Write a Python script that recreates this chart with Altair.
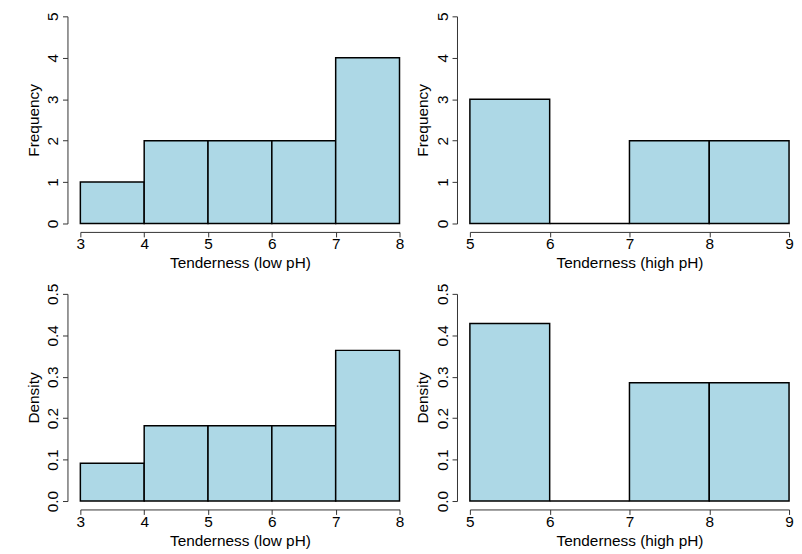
import altair as alt
import pandas as pd

# Histogram data
low_edges = [3, 4, 5, 6, 7, 8]
low_counts = [1, 2, 2, 2, 4]
high_edges = [5, 6, 7, 8, 9]
high_counts = [3, 0, 2, 2]

freq_ticks = [0, 1, 2, 3, 4, 5]
dens_ticks = [0.0, 0.1, 0.2, 0.3, 0.4, 0.5]

FONT = "Liberation Sans"
FS = 15.5
W, H = 322, 209
AX = "#333333"


def frame(edges, counts, density):
    n = sum(counts)
    rows = []
    for i, c in enumerate(counts):
        w = edges[i + 1] - edges[i]
        rows.append({"lo": edges[i], "hi": edges[i + 1], "base": 0,
                     "v": c / (n * w) if density else c})
    return pd.DataFrame(rows)


def panel(edges, counts, density, xtitle):
    df = frame(edges, counts, density)
    yticks = dens_ticks if density else freq_ticks
    ytitle = "Density" if density else "Frequency"
    xaxis = alt.Axis(values=edges, title=xtitle, offset=8.5, format="d",
                     labelBaseline="alphabetic", labelPadding=12,
                     titleBaseline="alphabetic", titleX=W / 2, titleY=36)
    yaxis = alt.Axis(values=yticks, title=ytitle, offset=13,
                     format=".1f" if density else "d",
                     labelAngle=270, labelAlign="center",
                     labelBaseline="alphabetic", labelPadding=5,
                     titleAngle=270, titleBaseline="alphabetic",
                     titleAlign="center", titleX=-29.5, titleY=H / 2)
    return alt.Chart(df).mark_rect(
        fill="#ADD8E6", stroke="black", strokeWidth=1.5
    ).encode(
        x=alt.X("lo:Q", scale=alt.Scale(domain=[edges[0], edges[-1]], nice=False, zero=False), axis=xaxis),
        x2="hi:Q",
        y=alt.Y("v:Q", scale=alt.Scale(domain=[yticks[0], yticks[-1]], nice=False), axis=yaxis),
        y2="base:Q",
    ).properties(width=W, height=H)


chart = alt.concat(
    panel(low_edges, low_counts, False, "Tenderness (low pH)"),
    panel(high_edges, high_counts, False, "Tenderness (high pH)"),
    panel(low_edges, low_counts, True, "Tenderness (low pH)"),
    panel(high_edges, high_counts, True, "Tenderness (high pH)"),
    columns=2, spacing=71, bounds="flush",
).properties(
    padding={"left": 18, "top": 1, "right": 0, "bottom": 0},
    background="white",
).configure_view(stroke=None).configure_axis(
    grid=False, domainColor=AX, tickColor=AX, tickSize=5, domainWidth=1, tickWidth=1,
    labelFont=FONT, labelFontSize=FS, labelColor="black",
    titleFont=FONT, titleFontSize=FS, titleFontWeight="normal", titleColor="black",
    labelFlush=False, labelOverlap=False,
)

chart.save("out.html", embed_options={"renderer": "svg", "actions": False})
